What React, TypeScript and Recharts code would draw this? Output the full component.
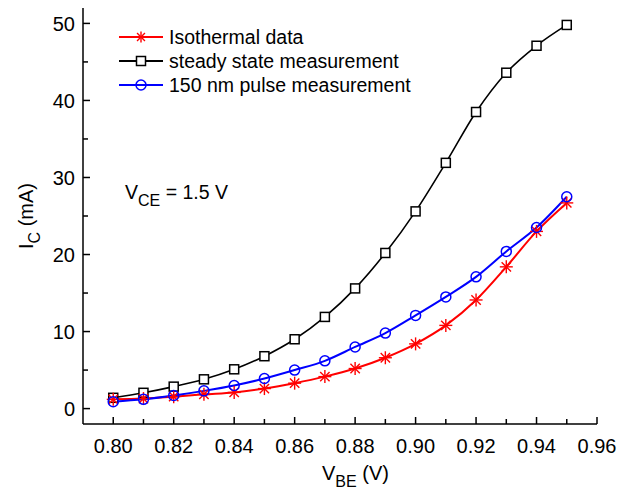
import { Customized, Legend, Line, LineChart, XAxis, YAxis } from "recharts";

const vbe = [0.8, 0.81, 0.82, 0.83, 0.84, 0.85, 0.86, 0.87, 0.88, 0.89, 0.9, 0.91, 0.92, 0.93, 0.94, 0.95];
const isothermal = [1.2, 1.3, 1.55, 1.85, 2.1, 2.6, 3.3, 4.15, 5.2, 6.6, 8.4, 10.8, 14.1, 18.4, 23.0, 26.7];
const steadyState = [1.4, 2.05, 2.85, 3.8, 5.1, 6.8, 9.0, 11.9, 15.6, 20.2, 25.6, 31.9, 38.5, 43.6, 47.1, 49.8];
const pulse150 = [0.9, 1.2, 1.7, 2.3, 3.0, 3.9, 5.0, 6.2, 8.0, 9.8, 12.1, 14.5, 17.1, 20.4, 23.5, 27.5];

const xTicks = [0.8, 0.81, 0.82, 0.83, 0.84, 0.85, 0.86, 0.87, 0.88, 0.89, 0.9, 0.91, 0.92, 0.93, 0.94, 0.95, 0.96];
const xLabels = [0.8, 0.82, 0.84, 0.86, 0.88, 0.9, 0.92, 0.94, 0.96];
const yTicks = [0, 5, 10, 15, 20, 25, 30, 35, 40, 45, 50];
const yLabels = [0, 10, 20, 30, 40, 50];

const data = vbe.map((v, i) => ({
  vbe: v,
  iso: isothermal[i],
  steady: steadyState[i],
  pulse: pulse150[i],
}));

const FONT = "'Liberation Sans', Arial, sans-serif";

function Star({ cx, cy, r = 5.5 }: { cx: number; cy: number; r?: number }) {
  const d = r * 0.72;
  return (
    <g stroke="#ff0000" strokeWidth={1.4}>
      <line x1={cx} y1={cy - r} x2={cx} y2={cy + r} />
      <line x1={cx - r} y1={cy} x2={cx + r} y2={cy} />
      <line x1={cx - d} y1={cy - d} x2={cx + d} y2={cy + d} />
      <line x1={cx - d} y1={cy + d} x2={cx + d} y2={cy - d} />
    </g>
  );
}

function Square({ cx, cy }: { cx: number; cy: number }) {
  return <rect x={cx - 4.5} y={cy - 4.5} width={9} height={9} fill="#fff" stroke="#000" strokeWidth={1.5} />;
}

function Circle({ cx, cy }: { cx: number; cy: number }) {
  return <circle cx={cx} cy={cy} r={5} fill="none" stroke="#0000ff" strokeWidth={1.5} />;
}

const isMajorX = (v: number) => xLabels.some((l) => Math.abs(l - v) < 1e-6);

function BottomTick(props: any) {
  const { x, y, payload } = props;
  const major = isMajorX(payload.value);
  return (
    <g>
      <line x1={x} y1={y} x2={x} y2={y - (major ? 7 : 5)} stroke="#000" strokeWidth={1.5} />
      {major && (
        <text x={x} y={y + 29} textAnchor="middle" fontSize={20} fontFamily={FONT} fill="#000">
          {payload.value.toFixed(2)}
        </text>
      )}
    </g>
  );
}

function LeftTick(props: any) {
  const { x, y, payload } = props;
  const major = yLabels.includes(payload.value);
  return (
    <g>
      <line x1={x} y1={y} x2={x + (major ? 7 : 5)} y2={y} stroke="#000" strokeWidth={1.5} />
      {major && (
        <text x={x - 8} y={y} dy="0.36em" textAnchor="end" fontSize={20} fontFamily={FONT} fill="#000">
          {payload.value}
        </text>
      )}
    </g>
  );
}

const legendItems = [
  { name: "Isothermal data", color: "#ff0000", Marker: Star },
  { name: "steady state measurement", color: "#000000", Marker: Square },
  { name: "150 nm pulse measurement", color: "#0000ff", Marker: Circle },
];

function LegendBox() {
  return (
    <div style={{ fontFamily: FONT, fontSize: 19.5 }}>
      {legendItems.map(({ name, color, Marker }) => (
        <div key={name} style={{ display: "flex", alignItems: "center", height: 24 }}>
          <svg width={50} height={24}>
            <line x1={0} y1={12} x2={44} y2={12} stroke={color} strokeWidth={2} />
            <Marker cx={22} cy={12} />
          </svg>
          <span style={{ lineHeight: "24px" }}>{name}</span>
        </div>
      ))}
    </div>
  );
}

function Annotations() {
  return (
    <g fontFamily={FONT} fill="#000">
      <text x={125} y={199} fontSize={19.5}>
        V<tspan fontSize={16} dy={7}>CE</tspan>
        <tspan dy={-7}> = 1.5 V</tspan>
      </text>
      <text x={322} y={480} fontSize={20}>
        V<tspan fontSize={16} dy={7}>BE</tspan>
        <tspan dy={-7}> (V)</tspan>
      </text>
      <text x={33} y={216} fontSize={20} textAnchor="middle" transform="rotate(-90, 33, 216)">
        I<tspan fontSize={16} dy={7}>C</tspan>
        <tspan dy={-7}> (mA)</tspan>
      </text>
    </g>
  );
}

export default function App() {
  return (
    <div style={{ position: "absolute", left: 0, top: 0, background: "#fff" }}>
      <LineChart width={626} height={493} data={data} margin={{ top: 8, right: 29, bottom: 0, left: 0 }}>
        <XAxis
          dataKey="vbe"
          type="number"
          domain={[0.79, 0.96]}
          ticks={xTicks}
          height={69}
          tickSize={0}
          tickMargin={0}
          tickLine={false}
          tick={BottomTick}
          axisLine={{ stroke: "#000", strokeWidth: 1.5 }}
          interval={0}
        />
        <XAxis
          xAxisId="top"
          orientation="top"
          dataKey="vbe"
          type="number"
          domain={[0.79, 0.96]}
          ticks={xTicks}
          height={0}
          tickSize={3}
          tick={false}
          tickLine={{ stroke: "#000", strokeWidth: 1 }}
          axisLine={{ stroke: "#000", strokeWidth: 1.5 }}
          interval={0}
        />
        <YAxis
          type="number"
          domain={[-2, 52]}
          ticks={yTicks}
          width={83}
          tickSize={0}
          tickMargin={0}
          tickLine={false}
          tick={LeftTick}
          axisLine={{ stroke: "#000", strokeWidth: 1.5 }}
          interval={0}
        />
        <YAxis
          yAxisId="right"
          orientation="right"
          type="number"
          domain={[-2, 52]}
          ticks={yTicks}
          width={0}
          tickSize={3}
          tick={false}
          tickLine={{ stroke: "#000", strokeWidth: 1 }}
          axisLine={{ stroke: "#000", strokeWidth: 1.5 }}
          interval={0}
        />
        <Line
          type="monotone"
          dataKey="steady"
          stroke="#000"
          strokeWidth={1.6}
          dot={(p: any) => <Square key={`sq-${p.index}`} cx={p.cx} cy={p.cy} />}
          isAnimationActive={false}
        />
        <Line
          type="monotone"
          dataKey="iso"
          stroke="#ff0000"
          strokeWidth={2}
          dot={(p: any) => <Star key={`st-${p.index}`} cx={p.cx} cy={p.cy} r={6.5} />}
          isAnimationActive={false}
        />
        <Line
          type="monotone"
          dataKey="pulse"
          stroke="#0000ff"
          strokeWidth={2}
          dot={(p: any) => <Circle key={`ci-${p.index}`} cx={p.cx} cy={p.cy} />}
          isAnimationActive={false}
        />
        <Legend
          layout="horizontal"
          verticalAlign="middle"
          align="center"
          content={() => <LegendBox />}
          wrapperStyle={{ left: 119, top: 25, width: 330, height: 74 }}
        />
        <Customized component={Annotations} />
      </LineChart>
    </div>
  );
}
